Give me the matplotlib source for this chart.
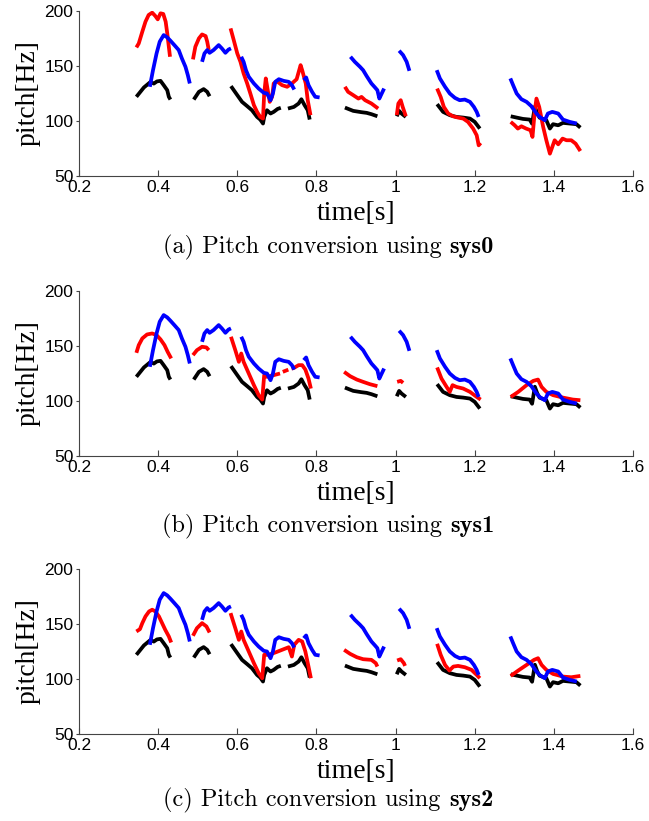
import numpy as np
import matplotlib
matplotlib.use("Agg")
import matplotlib.pyplot as plt

# source pitch (black), same in all three panels
black_t = [
    [0.345, 0.364, 0.381, 0.389, 0.397, 0.406, 0.414, 0.423, 0.427, 0.431],
    [0.490, 0.503, 0.515, 0.524, 0.530],
    [0.584, 0.600, 0.612, 0.625, 0.637, 0.650, 0.658, 0.665, 0.668, 0.675, 0.684, 0.692, 0.702, 0.710],
    [0.728, 0.743, 0.755, 0.762, 0.770, 0.778, 0.783],
    [0.872, 0.893, 0.914, 0.927, 0.939, 0.954],
    [1.003, 1.009, 1.015, 1.026],
    [1.105, 1.120, 1.137, 1.154, 1.171, 1.188, 1.200, 1.213],
    [1.291, 1.306, 1.322, 1.339, 1.345, 1.352, 1.358, 1.364, 1.381, 1.390, 1.398, 1.411, 1.423, 1.440, 1.457, 1.467],
]
black_f = [
    [122, 130.5, 135.6, 134, 136, 136.5, 132.6, 128, 122, 119.5],
    [119.5, 126.5, 129, 126.5, 122.5],
    [131.7, 123.5, 117.4, 113.5, 109.8, 103.7, 101.3, 97.7, 103.7, 109.8, 106.8, 108.3, 111, 112],
    [111.3, 112.8, 115.9, 119.8, 114.4, 109.8, 101.3],
    [112.2, 109.2, 108, 107.4, 106.2, 104.3],
    [104.3, 109.2, 106.8, 103.7],
    [115.3, 108.3, 105.3, 103.7, 103.1, 102.2, 99.2, 93.1],
    [104.3, 103.1, 101.9, 101.3, 97.5, 113, 107, 103, 100.7, 93.1, 97.1, 96.1, 98.3, 97.7, 97.1, 94.0],
]

# target pitch (blue), same in all three panels
blue_t = [
    [0.379, 0.387, 0.396, 0.404, 0.414, 0.423, 0.431, 0.441, 0.452, 0.460, 0.469, 0.475, 0.480],
    [0.511, 0.517, 0.524, 0.530, 0.540, 0.553, 0.561, 0.570, 0.578, 0.584],
    [0.610, 0.616, 0.622, 0.629, 0.642, 0.654, 0.667, 0.675, 0.684, 0.690, 0.696, 0.705, 0.717, 0.730, 0.738, 0.744],
    [0.768, 0.774, 0.780, 0.789, 0.797, 0.808],
    [0.886, 0.897, 0.910, 0.918, 0.927, 0.939, 0.948, 0.954, 0.959, 0.965, 0.971],
    [1.009, 1.019, 1.028, 1.035],
    [1.104, 1.112, 1.125, 1.137, 1.150, 1.162, 1.175, 1.188, 1.198, 1.205, 1.210],
    [1.290, 1.297, 1.306, 1.318, 1.331, 1.343, 1.356, 1.364, 1.377, 1.385, 1.396, 1.411, 1.423, 1.440, 1.458],
]
blue_f = [
    [131.1, 146.2, 161.4, 172.1, 178.1, 176, 173, 169, 164.5, 156.9, 149.3, 141.7, 134.1],
    [153.8, 161.4, 164.5, 162, 164.5, 169, 166, 162, 165, 166],
    [158.4, 153.8, 146.2, 140.2, 134.1, 129.5, 125.6, 125, 118.9, 125, 135.6, 138, 136.5, 135.6, 132.6, 128.6],
    [137.1, 139.6, 132.6, 126.5, 122, 121.4],
    [158.4, 153.8, 149.3, 146.2, 140.8, 134.1, 130.5, 128, 120.4, 125, 129.5],
    [163.9, 159.9, 153.8, 145.6],
    [146.2, 138.7, 131.1, 125, 121, 118.9, 119.5, 117.4, 112.8, 108.3, 103.7],
    [138.7, 132.6, 125, 119.8, 117.4, 113.5, 106.8, 103.7, 100.7, 106.8, 108.3, 106.8, 101.3, 99.2, 97.7],
]

# converted pitch (red) for sys0, sys1, sys2
red0_t = [
    [0.345, 0.351, 0.360, 0.368, 0.376, 0.385, 0.393, 0.399, 0.406, 0.413, 0.419, 0.423, 0.427, 0.430],
    [0.488, 0.494, 0.503, 0.511, 0.520, 0.524, 0.528],
    [0.583, 0.591, 0.600, 0.608, 0.616, 0.625, 0.633, 0.642, 0.650, 0.658, 0.665, 0.668, 0.672, 0.677, 0.682,
     0.688, 0.692, 0.700, 0.713, 0.726, 0.738, 0.750, 0.760, 0.764, 0.773, 0.778, 0.785],
    [0.872, 0.880, 0.893, 0.906, 0.914, 0.923, 0.931, 0.939, 0.956],
    [1.003, 1.007, 1.013, 1.018, 1.026],
    [1.105, 1.114, 1.122, 1.133, 1.145, 1.158, 1.171, 1.183, 1.196, 1.205, 1.210, 1.215],
    [1.291, 1.301, 1.309, 1.318, 1.330, 1.341, 1.346, 1.352, 1.356, 1.363, 1.373, 1.381, 1.390, 1.396, 1.402,
     1.411, 1.422, 1.432, 1.444, 1.455, 1.467],
]
red0_f = [
    [166.9, 170.5, 181.2, 190.3, 196.4, 198.5, 195.4, 192.4, 197.9, 197.3, 190.3, 179.7, 167.5, 158.4],
    [156, 167.5, 175.1, 178.7, 177.2, 172.1, 164.5],
    [184.2, 173.6, 161.4, 153.8, 143.2, 134.1, 125, 114.4, 108.3, 103.7, 102.2, 125, 138.7, 128, 117.4,
     122, 134.1, 136.2, 132.6, 131.1, 134.1, 138, 150.8, 146.2, 134.1, 118.9, 105.3],
    [131.1, 126.5, 123.5, 120.4, 121.9, 118.9, 117.4, 115.9, 111.3],
    [105.3, 115.9, 118.9, 112.8, 104.3],
    [129.5, 121.9, 112.8, 106.8, 104.3, 103.1, 102.2, 99.2, 93.1, 87, 77.9, 80],
    [99.2, 96.1, 93.1, 95.2, 93.1, 91.6, 85.5, 109.8, 120.4, 112.8, 94.6, 82.5, 70.3, 76.4, 82.5,
     78.8, 84, 82.5, 82.5, 79.4, 72.7],
]

red1_t = [
    [0.345, 0.351, 0.360, 0.372, 0.385, 0.396, 0.406, 0.416, 0.424, 0.433],
    [0.488, 0.498, 0.511, 0.522, 0.528],
    [0.584, 0.595, 0.604, 0.610, 0.616, 0.629, 0.642, 0.654, 0.663, 0.668, 0.675, 0.692, 0.708],
    [0.715, 0.729],
    [0.737, 0.743, 0.755, 0.764, 0.772, 0.780, 0.786],
    [0.870, 0.885, 0.902, 0.918, 0.935, 0.954],
    [1.004, 1.013, 1.019],
    [1.105, 1.116, 1.129, 1.137, 1.144, 1.154, 1.171, 1.188, 1.205, 1.215],
    [1.291, 1.310, 1.331, 1.348, 1.360, 1.369, 1.381, 1.398, 1.423, 1.448, 1.467],
]
red1_f = [
    [143.8, 150.8, 156.9, 160.5, 161.4, 159.9, 156, 150.8, 144.7, 138.7],
    [141.7, 146.2, 149.3, 148.7, 146.2],
    [158.4, 146.2, 135.6, 143.2, 135.6, 125, 114.4, 105.3, 101.3, 123.5, 122, 123.5, 125],
    [126.5, 128.5],
    [129.5, 130, 132.6, 132.6, 128.6, 120.4, 111.3],
    [126.5, 122.6, 119.5, 117.4, 115.3, 113.5],
    [117.4, 118.3, 116.5],
    [130.5, 120.4, 112.8, 108.3, 114.4, 112.8, 111.3, 108.3, 103.7, 101.3],
    [103.7, 108.3, 114.4, 118.3, 119.5, 112.8, 108.3, 105.3, 103.1, 101.3, 100.7],
]

red2_t = [
    [0.345, 0.354, 0.360, 0.368, 0.377, 0.385, 0.393, 0.402, 0.410, 0.418, 0.427, 0.433],
    [0.488, 0.498, 0.511, 0.522, 0.530],
    [0.583, 0.595, 0.604, 0.610, 0.616, 0.629, 0.642, 0.654, 0.663, 0.668, 0.679, 0.696, 0.713, 0.730,
     0.738, 0.744, 0.755, 0.764, 0.772, 0.780, 0.786],
    [0.870, 0.885, 0.902, 0.918, 0.939, 0.950, 0.954],
    [1.004, 1.013, 1.021, 1.024],
    [1.105, 1.114, 1.125, 1.136, 1.146, 1.158, 1.175, 1.192, 1.205, 1.213],
    [1.291, 1.310, 1.331, 1.350, 1.360, 1.369, 1.381, 1.398, 1.423, 1.444, 1.467],
]
red2_f = [
    [143.2, 145.3, 150.8, 156.9, 161.4, 163, 161.4, 156.9, 150.8, 144.7, 138.7, 133.2],
    [139.3, 146.2, 150.8, 147.8, 142.3],
    [159.9, 146.2, 135.6, 143.2, 135.6, 125, 114.4, 105.3, 100.7, 122, 122, 124.1, 126.5, 128.9,
     120.4, 131.1, 135.6, 134.1, 125, 111.3, 100.7],
    [126.5, 122.9, 119.8, 118, 117.4, 114.4, 111.3],
    [116.8, 118, 114.4, 111.9],
    [132, 122, 112.8, 107.7, 111.3, 111.9, 110.7, 108.3, 103.7, 100.7],
    [102.8, 107.7, 112.8, 117.4, 118.9, 112.8, 108.3, 104.6, 102.2, 101.6, 102.8],
]

cap_head = ['(a) Pitch conversion using ', '(b) Pitch conversion using ', '(c) Pitch conversion using ']
cap_sys = ['sys0', 'sys1', 'sys2']

panels = [(red0_t, red0_f), (red1_t, red1_f), (red2_t, red2_f)]

W, H = 649, 821
fig = plt.figure(figsize=(W / 100, H / 100), dpi=100)

# pixel rows of each panel's bottom spine
bottoms = [176, 456, 734]
cap_rows = [253, 532, 806]
left, right = 79, 633
ph = 165

heads = []
for i, ((rt, rf), b) in enumerate(zip(panels, bottoms)):
    ax = fig.add_axes([left / W, 1 - b / H, (right - left) / W, ph / H])
    for t, f in zip(black_t, black_f):
        ax.plot(t, f, color='black', lw=2.7, solid_capstyle='butt')
    for t, f in zip(rt, rf):
        ax.plot(t, f, color='red', lw=2.7, solid_capstyle='butt')
    for t, f in zip(blue_t, blue_f):
        ax.plot(t, f, color='blue', lw=2.7, solid_capstyle='butt')

    ax.set_xlim(0.2, 1.6)
    ax.set_ylim(50, 200)
    ax.set_xticks([0.2, 0.4, 0.6, 0.8, 1.0, 1.2, 1.4, 1.6])
    ax.set_xticklabels(['0.2', '0.4', '0.6', '0.8', '1', '1.2', '1.4', '1.6'])
    ax.set_yticks([50, 100, 150, 200])
    for s in ['top', 'right']:
        ax.spines[s].set_visible(False)
    for s in ['left', 'bottom']:
        ax.spines[s].set_color('#444444')
        ax.spines[s].set_linewidth(0.8)
    ax.tick_params(axis='x', direction='in', length=4, width=0.8, color='#444444', pad=3)
    ax.tick_params(axis='y', direction='out', length=2.5, width=0.8, color='#444444', pad=1.5)
    for lab in ax.get_xticklabels() + ax.get_yticklabels():
        lab.set_fontfamily('Liberation Sans')
        lab.set_fontsize(12.5)

    ax.set_ylabel('pitch[Hz]', fontfamily='Liberation Serif', fontsize=20)
    ax.yaxis.set_label_coords(-0.092, 0.5)
    ax.yaxis.label.set_va('center')
    ax.set_xlabel('time[s]', fontfamily='Liberation Serif', fontsize=20)
    ax.xaxis.set_label_coords(0.5, -37 / ph)
    ax.xaxis.label.set_va('center')

    # caption: regular part + bold system name, centred as a whole
    yc = 1 - cap_rows[i] / H
    t1 = fig.text(0, yc, cap_head[i], fontfamily='cmr10', fontsize=17.5, va='baseline')
    t2 = fig.text(0, yc, cap_sys[i], fontfamily='cmb10', fontsize=17.5, va='baseline')
    heads.append((t1, t2))

fig.canvas.draw()
r = fig.canvas.get_renderer()
for t1, t2 in heads:
    w1 = t1.get_window_extent(r).width / W
    w2 = t2.get_window_extent(r).width / W
    x0 = 0.506 - (w1 + w2) / 2
    t1.set_x(x0)
    t2.set_x(x0 + w1)

fig.savefig('out.png', dpi=100)
